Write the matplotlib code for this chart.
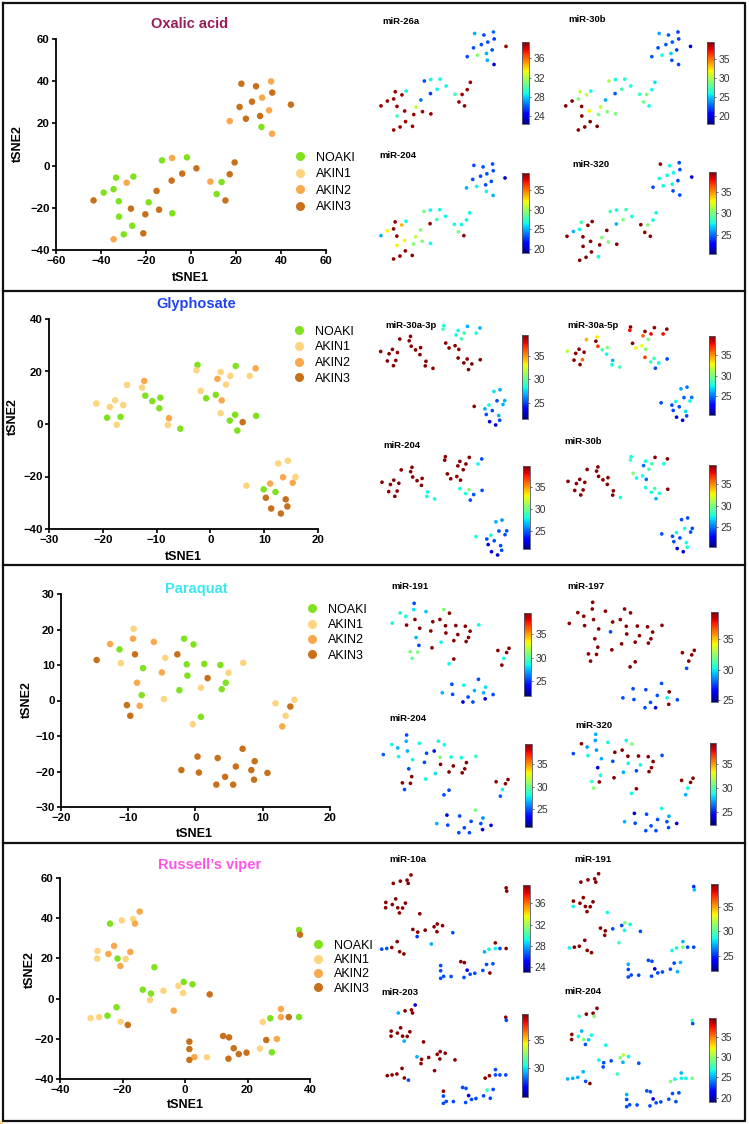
import matplotlib
matplotlib.use('Agg')
import matplotlib.pyplot as plt
from matplotlib.lines import Line2D

plt.rcParams['font.family'] = ['Liberation Sans', 'DejaVu Sans']

# ---------------- DATA ----------------
group_names = ['NOAKI', 'AKIN1', 'AKIN2', 'AKIN3']

# Panel 1: Oxalic acid
p1_x = [-33.3, -25.6, -38.8, -34.4, -32.1, -32.0, -26.1, -29.9, -18.8, -12.9, -1.8, -8.3, 11.4, 13.6, 31.3,
        -28.6, -34.4, -8.4, 8.6, 17.2, 35.6, 31.6, 34.7, 36.0,
        -43.3, -26.7, -20.3, -14.2, -15.3, -21.2, -8.6, -3.9, 2.4, 17.2, 15.3, 19.4, 22.4, 28.9, 36.1, 44.4,
        21.6, 27.1, 24.4, 30.7]
p1_y = [-5.7, -5.2, -12.8, -11.2, -16.9, -24.2, -28.5, -32.6, -17.4, 2.5, 3.9, -22.6, -13.5, -7.8, 18.3,
        -8.1, -34.9, 3.6, -7.6, 21.1, 39.9, 32.2, 26.2, 15.1,
        -16.5, -20.4, -23.1, -20.9, -12.0, -32.1, -7.1, -3.8, -1.3, -4.1, -16.5, 1.5, 38.8, 37.6, 34.6, 28.9,
        27.8, 30.3, 22.2, 23.5]
p1_group = ['NOAKI'] * 15 + ['AKIN2'] * 9 + ['AKIN3'] * 20
p1_mir26a = [39, 28.7, 39, 39, 39, 29.7, 39, 39, 32.3, 25.8, 28.7, 39, 39, 39, 27.5,
             39, 39, 28.7, 29.7, 25.8, 26.5, 25.8, 25.8, 23.8,
             39, 39, 39, 39, 26.5, 39, 25.5, 28.7, 28.7, 39, 39, 39, 27.5, 25.8, 25.5, 39, 25.8, 25.8, 30.9, 27.5]
p1_mir30b = [30.5, 26, 39.5, 28.7, 39.5, 39.5, 39.5, 39.5, 30.5, 30, 26, 28.7, 28.5, 28.7, 22.2,
             30.5, 39.5, 26, 27.2, 22.5, 22, 22.5, 22, 22,
             39.5, 32, 28.7, 28.7, 24.4, 39.5, 22.5, 27.2, 26, 26, 26, 25.5, 24.4, 22.5, 22, 19.6, 22.2, 22.5, 26, 25]
p1_mir204 = [39, 26.5, 32.2, 39, 39, 32.2, 39, 39, 30.8, 29.2, 26.5, 26.5, 29.2, 26.5, 26.5,
             33.7, 39, 26.5, 26.5, 25, 23, 23, 23, 25,
             25, 32.2, 29.2, 29.2, 29.2, 39, 39, 27.7, 26.5, 26.5, 39, 26.5, 23, 23, 23, 20.5, 23, 23, 26.5, 23]
p1_mir320 = [28.8, 39.5, 26.3, 27.6, 39.5, 39.5, 39.5, 39.5, 30.1, 28.8, 28.8, 39.5, 39.5, 30.1, 24.3,
             39.5, 39.5, 27.6, 39.5, 24.3, 24.3, 27.6, 24.3, 24.3,
             39.5, 39.5, 39.5, 30.1, 39.5, 27.6, 26.3, 30.1, 27.6, 27.6, 39.5, 27.6, 39.5, 27.6, 24.3, 22, 27.6, 27.6, 27.6, 27.6]

# Panel 2: Glyphosate
p2_x = [-19.2, -16.7, -12.1, -10.8, -9.3, -9.5, -5.6, -2.4, 4.7, -0.8, 1.0, 4.6, 3.6, 5.0, 8.5, 9.9, 12.1,
        -21.2, -18.7, -17.7, -16.2, -17.4, -15.5, -12.7, -7.9, -2.6, -1.8, 1.9, 3.7, 2.9, 1.9, 7.3, 6.7, 12.6, 14.4, 15.8,
        -12.3, -7.7, 1.3, 2.1, 8.4, 11.1, 13.5, 15.3,
        6.0, 10.3, 11.3, 14.0, 14.3, 13.1]
p2_y = [2.4, 2.7, 10.8, 8.7, 10.0, 6.0, -1.8, 22.5, 22.1, 9.8, 11.1, 3.5, 1.3, -2.5, 3.1, -24.9, -25.9,
        7.8, 6.5, 9.0, 7.2, -0.3, 14.9, 13.9, -0.4, 20.5, 12.6, 19.8, 18.3, 15.0, 4.1, 18.3, -23.5, -15.0, -14.0, -20.2,
        16.4, 2.2, 17.2, 9.0, 21.2, -22.7, -20.3, -22.4,
        0.7, -28.1, -32.2, -28.7, -31.4, -34.1]
p2_group = ['NOAKI'] * 17 + ['AKIN1'] * 19 + ['AKIN2'] * 8 + ['AKIN3'] * 6
p2_mir30a3p = [39.3, 39.3, 39.3, 39.3, 39.3, 39.3, 39.3, 28.2, 26.9, 39.3, 39.3, 39.3, 39.3, 39.3, 39.3, 26.9, 25.1,
               39.3, 39.3, 39.3, 39.3, 39.3, 39.3, 39.3, 39.3, 29.3, 39.3, 28.2, 29.3, 29.3, 39.3, 28.2, 39.3, 27.8, 26.9, 26.9,
               39.3, 39.3, 28.2, 39.3, 26.9, 28.2, 25.1, 26.9,
               39.3, 25.1, 22.9, 26.9, 25.1, 22.9]
p2_mir30a5p = [39.4, 35.8, 36.7, 28.7, 30, 27.5, 28.7, 39.4, 39.4, 32.9, 32.5, 28.7, 28.7, 24.2, 24.2, 24.2, 24.2,
               31.5, 39.4, 39.4, 39.4, 39.4, 34.2, 39.4, 27.5, 37.7, 39.4, 39.4, 37.7, 30, 36.7, 37.7, 24.2, 26, 25, 25,
               32.9, 26.2, 35.8, 30, 39.4, 27.5, 24.5, 27.5,
               27.5, 24.2, 22, 27, 24.2, 22]
p2_mir204 = [39.5, 39.5, 39.5, 39.5, 39.5, 39.5, 27.9, 39.5, 39.5, 39.5, 39.5, 30.3, 27.9, 24.7, 24.7, 24.7, 24.7,
             39.5, 39.5, 39.5, 39.5, 39.5, 39.5, 39.5, 27.9, 39.5, 39.5, 39.5, 39.5, 39.5, 27.9, 27.9, 27.9, 26.5, 26, 24.7,
             39.5, 27.9, 39.5, 39.5, 24.7, 27.9, 24.7, 24.7,
             24.7, 22.4, 22.4, 24.7, 24.7, 22.4]
p2_mir30b = [39.2, 39.2, 39.2, 39.2, 39.2, 39.2, 27.6, 27.6, 39.2, 27.6, 27.6, 28.6, 27.6, 26.2, 39.2, 24.3, 24.3,
             39.2, 39.2, 39.2, 39.2, 39.2, 39.2, 39.2, 39.2, 28.6, 30, 27.6, 28.6, 28.6, 27.6, 27.6, 24.3, 24.3, 24.3, 24.3,
             39.2, 39.2, 24.8, 24.8, 39.2, 27.6, 27.6, 24.3,
             27.6, 24.3, 22, 27.6, 27.6, 22]

# Panel 3: Paraquat
p3_x = [-11.3, -7.8, -8.0, -1.7, -0.3, -1.3, -1.2, -2.4, 1.3, 3.7, 4.5, 3.9, 0.8,
        -9.2, -11.1, -4.5, -4.7, 0.8, 4.9, 7.1, -0.4, 11.9, 14.7, 13.4,
        -12.7, -9.3, -6.2, -8.7, -5.0, -8.3, 12.9,
        -14.7, -9.0, -2.7, 1.8, -10.2, -9.7, 14.1, 7.0, 0.3, 3.3, 8.8, -2.1, 0.5, 6.0, 8.3, 10.7, 4.4, 8.7, 3.1, 5.6]
p3_y = [14.4, 9.1, 1.5, 17.4, 15.8, 10.2, 7.0, 2.9, 10.3, 10.0, 5.0, 3.2, -4.6,
        20.2, 10.5, 12.0, 0.4, 3.6, 7.8, 10.6, -6.7, -0.8, 0.2, -4.3,
        15.9, 17.4, 16.5, 5.0, 7.9, -1.5, -7.3,
        11.4, 13.0, 13.0, 6.3, -1.3, -4.3, -1.7, -13.6, -15.8, -16.2, -17.1, -19.6, -20.3, -18.6, -19.6, -20.4,
        -21.5, -22.3, -23.7, -23.7]
p3_group = ['NOAKI'] * 13 + ['AKIN1'] * 11 + ['AKIN2'] * 7 + ['AKIN3'] * 20
p3_mir191 = [28.4, 39.3, 25.4, 30.7, 39.3, 39.3, 39.3, 28.4, 39.3, 39.3, 39.3, 39.3, 39.3,
             25.4, 39.3, 39.3, 39.3, 39.3, 39.3, 28.4, 28.4, 39.3, 39.3, 28.4,
             28.4, 28, 27.5, 27.2, 39.3, 30.7, 39.3,
             28.4, 39.3, 39.3, 39.3, 30.7, 30.3, 39.3, 25.4, 25.4, 28.4, 28, 27.2, 25.4, 27.2, 27.2, 25.4, 25.4, 23.3, 23.3, 25.4]
p3_mir197 = [39.3, 39.3, 39.3, 39.3, 39.3, 39.3, 39.3, 39.3, 39.3, 39.3, 39.3, 39.3, 39.3,
             39.3, 39.3, 39.3, 39.3, 39.3, 39.3, 39.3, 39.3, 39.3, 39.3, 39.3,
             39.3, 39.3, 39.3, 39.3, 27.7, 39.3, 27.7,
             39.3, 39.3, 39.3, 39.3, 39.3, 39.3, 39.3, 27.7, 27.7, 27.7, 39.3, 27.7, 27.7, 27.7, 30.2, 27.7, 27.7, 39.3, 27.7, 25.9]
p3_mir204 = [26.6, 27.9, 39.4, 27.9, 27.9, 30.3, 39.4, 27.5, 27.9, 27.9, 39.4, 39.4, 24.7,
             24.7, 27.9, 24.7, 27.9, 39.4, 39.4, 29, 24.7, 39.4, 39.4, 27.9,
             27.9, 26.6, 27.9, 24.7, 24.7, 39.4, 25,
             25, 26.6, 23.5, 39.4, 39.4, 24.7, 39.4, 30.3, 22.5, 24.7, 26, 26.6, 24.7, 24.7, 24.7, 22.5, 24.7, 22.5, 24.7, 24.7]
p3_mir320 = [27, 27.4, 28.6, 28.6, 30.9, 39.3, 28.6, 27.4, 39.3, 39.3, 39.3, 39.3, 39.3,
             27.4, 28.6, 39.3, 39.3, 25.7, 39.3, 25.7, 28.6, 39.3, 39.3, 28.6,
             39.3, 27, 28.6, 23.6, 25.7, 39.3, 27.4,
             25.7, 27, 39.3, 28.6, 29.6, 30.9, 39.3, 28.6, 23.6, 25.7, 27.4, 27.4, 25.7, 25.7, 25.7, 23.6, 25.7, 25.7, 25.7, 25.7]

# Panel 4: Russell's viper
p4_x = [-24.0, -21.6, -9.8, -13.5, -10.9, -0.4, 2.4, -21.9, -24.8, 27.3, 36.5, 27.8, 36.5,
        -20.2, -16.6, -28.0, -28.1, -19.0, -30.2, -27.5, -20.6, -11.2, -6.9, -2.1, -0.6, 7.0, 24.9, 24.0,
        -14.5, -16.0, -22.7, -24.5, -20.7, -17.5, -3.6, 3.0, 30.7, 30.7, 29.4,
        36.8, 7.9, -18.3, 1.4, 1.4, 1.4, 12.2, 14.1, 15.6, 17.2, 19.7, 13.9, 26.0, 33.2]
p4_y = [37.3, 19.9, 15.6, 4.4, 2.5, 8.3, 7.1, -4.3, -8.5, -9.8, -9.2, -26.7, 34.1,
        38.9, 39.6, 23.7, 19.9, 19.7, -9.7, -9.2, -11.5, -0.7, 3.9, 6.3, 2.8, -29.2, -11.6, -24.9,
        43.3, 37.3, 26.2, 22.2, 16.2, 23.2, -6.0, -29.1, -5.2, -9.2, -20.1,
        31.8, 2.1, -13.1, -21.4, -25.1, -30.5, -18.6, -19.3, -24.7, -27.6, -26.9, -29.9, -20.6, -9.2]
p4_group = ['NOAKI'] * 13 + ['AKIN1'] * 15 + ['AKIN2'] * 11 + ['AKIN3'] * 14
p4_mir10a = [39.2, 39.2, 39.2, 39.2, 39.2, 39.2, 39.2, 39.2, 39.2, 29.1, 39.2, 39.2, 39.2,
             39.2, 39.2, 39.2, 39.2, 39.2, 26.4, 26.4, 39.2, 26, 39.2, 39.2, 39.2, 26.4, 28, 26.4,
             39.2, 39.2, 39.2, 39.2, 39.2, 39.2, 28, 26.4, 39.2, 29.1, 26.4,
             39.2, 26.4, 39.2, 26.4, 26.4, 26.4, 39.2, 39.2, 24.4, 26.4, 26.4, 26.4, 26.4, 26.4]
p4_mir191 = [39.4, 39.4, 28.5, 39.4, 39.4, 30.8, 28.5, 39.4, 39.4, 28.5, 25.5, 27.3, 25,
             39.4, 39.4, 39.4, 28.5, 39.4, 28.5, 39.4, 39.4, 39.4, 25.5, 25.5, 28.5, 25.5, 28.5, 25.5,
             39.4, 39.4, 39.4, 39.4, 39.4, 39.4, 29.6, 25.5, 27.3, 30.8, 27.3,
             27.5, 25.5, 39.4, 27.3, 25.5, 25.5, 25.5, 25.5, 23.4, 25.5, 25.5, 25.5, 25.5, 25.5]
p4_mir203 = [29.2, 39.3, 39.3, 29.2, 39.3, 39.3, 39.3, 39.3, 39.3, 39.3, 27.7, 27.7, 39.3,
             39.3, 39.3, 39.3, 39.3, 39.3, 39.3, 39.3, 39.3, 39.3, 39.3, 39.3, 39.3, 27.7, 39.3, 27.7,
             26, 39.3, 39.3, 39.3, 29.2, 39.3, 39.3, 27.7, 27.7, 27.7, 27.7,
             27.7, 39.3, 27.7, 39.3, 27.7, 27.7, 27.7, 27.7, 26, 27.7, 27.7, 27.7, 31, 27.7]
p4_mir204 = [27.8, 29.3, 26.6, 26.6, 23.1, 30.9, 26.6, 25.2, 25.2, 26.6, 29, 23.1, 27.8,
             39.3, 39.3, 39.3, 39.3, 25.8, 25.2, 25.2, 23.1, 23.1, 23.1, 29.3, 25.2, 23.1, 29.3, 23.1,
             39.3, 29.3, 25.2, 26.6, 23.1, 26.6, 27.8, 23.1, 25.2, 26.6, 23.1,
             23.1, 23.1, 39.3, 25.2, 23.1, 23.1, 23.1, 23.1, 20.6, 23.1, 23.1, 23.1, 23.1, 26.6]

# ---------------- STYLE / LAYOUT ----------------
W, H = 749, 1124
fig = plt.figure(figsize=(W / 100, H / 100), dpi=100)
fig.patch.set_facecolor('white')

group_colors = {'NOAKI': '#80E21E', 'AKIN1': '#FFD47F', 'AKIN2': '#FAA84B', 'AKIN3': '#C8711A'}


def frect(x0, y0, x1, y1):
    return [x0 / W, 1 - y1 / H, (x1 - x0) / W, (y1 - y0) / H]


def ftext(x, y, s, **kw):
    fig.text(x / W, 1 - y / H, s, **kw)


def big_scatter(box, xs, ys, groups, xlim, ylim, xticks, yticks, title, tcolor, title_xy,
                leg, xlab_xy, ylab_xy):
    ax = fig.add_axes(frect(*box))
    for g in group_names:
        gx = [x for x, gg in zip(xs, groups) if gg == g]
        gy = [y for y, gg in zip(ys, groups) if gg == g]
        ax.scatter(gx, gy, s=22, color=group_colors[g], edgecolors='none', zorder=3, clip_on=False)
    ax.set_xlim(xlim)
    ax.set_ylim(ylim)
    ax.set_xticks(xticks)
    ax.set_yticks(yticks)
    for s in ['top', 'right']:
        ax.spines[s].set_visible(False)
    for s in ['left', 'bottom']:
        ax.spines[s].set_linewidth(1.3)
    ax.tick_params(width=1.2, length=3, labelsize=8.2, pad=1.5)
    for lab in ax.get_xticklabels() + ax.get_yticklabels():
        lab.set_fontweight('bold')
    ax.patch.set_alpha(0)
    ftext(title_xy[0], title_xy[1], title, color=tcolor, fontsize=10.5, fontweight='bold',
          ha='center', va='center')
    ftext(xlab_xy[0], xlab_xy[1], 'tSNE1', fontsize=9, fontweight='bold', ha='center', va='center')
    ftext(ylab_xy[0], ylab_xy[1], 'tSNE2', fontsize=9, fontweight='bold', ha='center', va='center',
          rotation=90)
    mx, my, sp = leg
    fs = 9.0
    fspx = fs * 100 / 72
    handles = [Line2D([], [], marker='o', linestyle='', markersize=6.5, color=group_colors[g],
                      markeredgewidth=0) for g in group_names]
    ls = max((sp - 1.15 * fspx) / fspx, 0.05)
    ax.legend(handles, group_names, loc='upper left',
              bbox_to_anchor=((mx - 0.5 * fspx) / W, 1 - (my - 0.58 * fspx) / H),
              bbox_transform=fig.transFigure, frameon=False, fontsize=fs, handlelength=1.0,
              handletextpad=0.75, labelspacing=ls, borderpad=0, borderaxespad=0)


def small_map(xs, ys, vals, box, vmin, vmax, title, tpos, cbox, ticks):
    ax = fig.add_axes(frect(*box))
    sc = ax.scatter(xs, ys, c=vals, cmap='jet', vmin=vmin, vmax=vmax, s=7, edgecolors='none',
                    clip_on=False)
    ax.set_xlim(min(xs), max(xs))
    ax.set_ylim(min(ys), max(ys))
    ax.axis('off')
    ftext(tpos[0], tpos[1], title, fontsize=6.8, fontweight='bold', ha='left', va='center')
    cax = fig.add_axes(frect(*cbox))
    cb = fig.colorbar(sc, cax=cax, ticks=ticks)
    cb.outline.set_linewidth(0.6)
    cb.outline.set_edgecolor('#555566')
    cax.tick_params(labelsize=7.5, length=1.5, width=0.5, pad=2, colors='#333333')


# Panel 1
big_scatter((56, 39, 326, 250), p1_x, p1_y, p1_group, (-60, 60), (-40, 60),
            [-60, -40, -20, 0, 20, 40, 60], [-40, -20, 0, 20, 40, 60],
            'Oxalic acid', '#9B1D5C', (190, 24), (300, 159, 18.8), (190, 278), (18, 144))
small_map(p1_x, p1_y, p1_mir26a, (381, 32, 506, 130), 22.4, 39.4, 'miR-26a', (382, 22),
          (522, 42, 529, 124), [24, 28, 32, 36])
small_map(p1_x, p1_y, p1_mir30b, (565.7, 32, 690.5, 130), 17.9, 39.6, 'miR-30b', (568, 19.5),
          (707, 42, 714, 124), [20, 25, 30, 35])
small_map(p1_x, p1_y, p1_mir204, (381, 164, 505, 259), 18.9, 39.4, 'miR-204', (379.5, 156),
          (522, 173, 529, 253), [20, 25, 30, 35])
small_map(p1_x, p1_y, p1_mir320, (567, 162.7, 691.7, 260.3), 20.5, 39.7, 'miR-320', (572, 164.5),
          (709, 172, 715.5, 254), [25, 30, 35])

# Panel 2
big_scatter((49, 319, 318, 529), p2_x, p2_y, p2_group, (-30, 20), (-40, 40),
            [-30, -20, -10, 0, 10, 20], [-40, -20, 0, 20, 40],
            'Glyphosate', '#2244EE', (196, 304), (299, 333, 18), (183, 557), (13, 417))
small_map(p2_x, p2_y, p2_mir30a3p, (380.7, 325.7, 504.7, 425), 21.5, 39.5, 'miR-30a-3p', (385, 325.7),
          (521.7, 335, 528.3, 419.3), [25, 30, 35])
small_map(p2_x, p2_y, p2_mir30a5p, (567.3, 327, 691.7, 420.3), 20.4, 39.6, 'miR-30a-5p', (567.7, 326),
          (708.7, 336, 715.3, 415), [25, 30, 35])
small_map(p2_x, p2_y, p2_mir204, (382, 456.7, 506.7, 555), 20.9, 39.7, 'miR-204', (383.3, 445),
          (523.3, 466, 530, 549.3), [25, 30, 35])
small_map(p2_x, p2_y, p2_mir30b, (568, 456.7, 692.3, 551.7), 20.5, 39.4, 'miR-30b', (564.3, 441),
          (709.3, 465, 716, 546.7), [25, 30, 35])

# Panel 3
big_scatter((61, 594, 330, 807), p3_x, p3_y, p3_group, (-20, 20), (-30, 30),
            [-20, -10, 0, 10, 20], [-30, -20, -10, 0, 10, 20, 30],
            'Paraquat', '#3BE6F0', (196, 589), (312, 611, 17.7), (194, 834), (27, 700))
small_map(p3_x, p3_y, p3_mir191, (392.3, 603.3, 509, 702), 21.9, 39.5, 'miR-191', (391.7, 586.7),
          (524.3, 612.7, 531, 695.7), [25, 30, 35])
small_map(p3_x, p3_y, p3_mir197, (569.3, 602.3, 694.3, 707.7), 24.7, 39.5, 'miR-197', (567.7, 586.7),
          (711.3, 612.3, 718, 701.7), [25, 30, 35])
small_map(p3_x, p3_y, p3_mir204, (383.3, 735, 508, 832.7), 21.0, 39.6, 'miR-204', (389.3, 718.3),
          (525, 744, 531.7, 826.7), [25, 30, 35])
small_map(p3_x, p3_y, p3_mir320, (573.3, 734.3, 693, 830.7), 22.2, 39.5, 'miR-320', (575, 726),
          (709.7, 743.3, 716.3, 824.7), [25, 30, 35])

# Panel 4
big_scatter((60, 878, 310, 1079), p4_x, p4_y, p4_group, (-40, 40), (-40, 60),
            [-40, -20, 0, 20, 40], [-40, -20, 0, 20, 40, 60],
            'Russell\u2019s viper', '#FF55E6', (210, 865), (318, 947, 16.7), (185, 1105), (30, 970))
small_map(p4_x, p4_y, p4_mir10a, (381.7, 875, 506.7, 978.3), 23.1, 39.4, 'miR-10a', (389, 859.3),
          (523.3, 885, 530, 972.3), [24, 28, 32, 36])
small_map(p4_x, p4_y, p4_mir191, (569.3, 873.7, 694.3, 977), 22.0, 39.6, 'miR-191', (574.3, 859.3),
          (711.3, 884, 718, 970.7), [25, 30, 35])
small_map(p4_x, p4_y, p4_mir203, (387.3, 1005, 506.3, 1103.3), 24.8, 39.5, 'miR-203', (381.7, 992.3),
          (521.7, 1014.3, 528.3, 1097.3), [30, 35])
small_map(p4_x, p4_y, p4_mir204, (567.7, 1008.3, 692.7, 1106.7), 19.0, 39.5, 'miR-204', (564.7, 991),
          (709.3, 1018.3, 716, 1101.7), [20, 25, 30, 35])

# Frame and separators
frame_kw = dict(color='#111111', linewidth=1.6, transform=fig.transFigure)
X0, X1, Y0, Y1 = 3, 745, 3, 1121
fig.add_artist(Line2D([X0 / W, X1 / W, X1 / W, X0 / W, X0 / W],
                      [1 - Y0 / H, 1 - Y0 / H, 1 - Y1 / H, 1 - Y1 / H, 1 - Y0 / H], **frame_kw))
for ysep in [291, 565, 843]:
    fig.add_artist(Line2D([X0 / W, X1 / W], [1 - ysep / H, 1 - ysep / H], **frame_kw))

fig.savefig('out.png', dpi=100, facecolor='white')
